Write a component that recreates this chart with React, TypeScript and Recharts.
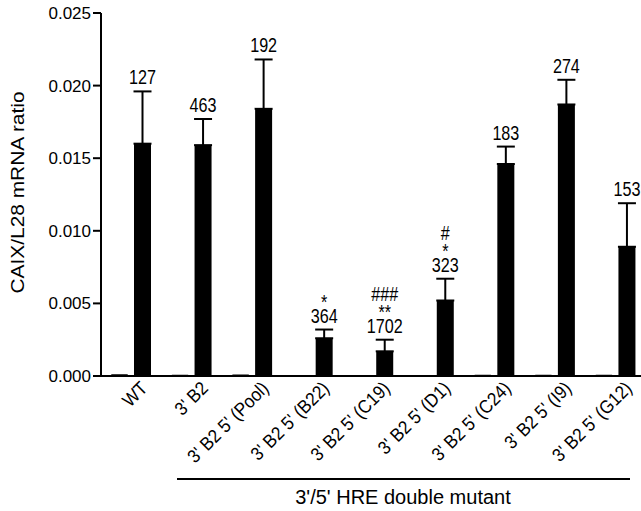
import { BarChart, Bar, XAxis, YAxis, ErrorBar, LabelList } from 'recharts';

const categories = [
  'WT',
  "3' B2",
  "3' B2 5' (Pool)",
  "3' B2 5' (B22)",
  "3' B2 5' (C19)",
  "3' B2 5' (D1)",
  "3' B2 5' (C24)",
  "3' B2 5' (I9)",
  "3' B2 5' (G12)",
];
const controlValues = [0.00012, 0.00008, 0.0001, 0.00005, 0.00005, 0.00006, 0.00008, 0.00008, 0.00008];
const meanValues = [0.016, 0.0159, 0.0184, 0.0026, 0.0017, 0.0052, 0.0146, 0.0187, 0.0089];
const errorValues = [0.0036, 0.0018, 0.0034, 0.0006, 0.0008, 0.0015, 0.0012, 0.0017, 0.003];
const countLabels = ['127', '463', '192', '364', '1702', '323', '183', '274', '153'];
// first entry: asterisks (vs WT), second: hashes
const significance: string[][] = [[], [], [], ['*'], ['**', '###'], ['*', '#'], [], [], []];
const yTicks = [0, 0.005, 0.01, 0.015, 0.02, 0.025];

const FONT = '"Liberation Sans", Arial, Helvetica, sans-serif';
const LINE_OFFSETS = [7, 21, 39];

const data = categories.map((name, i) => ({
  name,
  control: controlValues[i],
  mean: meanValues[i],
  err: errorValues[i],
  errRange: [0, errorValues[i]],
  idx: i,
}));

function AngledTick({ x, y, payload }: any) {
  return (
    <g transform={`translate(${x + 8},${y - 4})`}>
      <text
        x={0}
        y={0}
        dy="0.71em"
        textAnchor="end"
        transform="rotate(-45) scale(1,1.1)"
        fontSize={17}
        fontFamily={FONT}
        fill="#000"
      >
        {payload.value}
      </text>
    </g>
  );
}

function TopLabel({ x, y, width, index }: any) {
  const cx = x + width / 2;
  const lines = [countLabels[index], ...significance[index]];
  return (
    <g>
      {lines.map((t, k) => (
        <text
          key={k}
          x={0}
          y={0}
          transform={`translate(${cx},${y - LINE_OFFSETS[k]}) scale(0.95,1.2)`}
          textAnchor="middle"
          fontSize={17}
          fontFamily={FONT}
          fill="#000"
        >
          {t}
        </text>
      ))}
    </g>
  );
}

function YLabel({ viewBox }: any) {
  const cy = viewBox.y + viewBox.height / 2 - 2;
  return (
    <text
      x={0}
      y={0}
      transform={`translate(17,${cy}) rotate(-90) scale(1.1,1)`}
      textAnchor="middle"
      dominantBaseline="central"
      fontSize={19}
      fontFamily={FONT}
      fill="#000"
    >
      CAIX/L28 mRNA ratio
    </text>
  );
}

export default function App() {
  return (
    <div
      style={{
        position: 'absolute',
        left: 0,
        top: 0,
        width: 641,
        height: 511,
        overflow: 'hidden',
        background: '#fff',
      }}
    >
      <BarChart
        width={650}
        height={511}
        data={data}
        margin={{ top: 13, right: 4, bottom: 0, left: 0 }}
        barSize={17}
        barGap={6}
      >
        <XAxis
          dataKey="name"
          interval={0}
          height={135}
          tickLine={false}
          axisLine={{ stroke: '#000', strokeWidth: 2 }}
          tick={<AngledTick />}
        />
        <YAxis
          width={101}
          domain={[0, 0.025]}
          ticks={yTicks}
          allowDataOverflow
          tickFormatter={(v: number) => v.toFixed(3)}
          axisLine={{ stroke: '#000', strokeWidth: 2 }}
          tickLine={{ stroke: '#000', strokeWidth: 2 }}
          tickSize={8}
          tick={{ fill: '#000', fontSize: 17, fontFamily: FONT }}
          label={<YLabel />}
        />
        <Bar dataKey="control" stackId="ctrl" fill="#000" radius={[4, 4, 0, 0]} isAnimationActive={false} />
        <Bar dataKey="mean" stackId="a" fill="#000" isAnimationActive={false}>
          <ErrorBar dataKey="errRange" width={9} stroke="#000" strokeWidth={2} direction="y" />
        </Bar>
        <Bar dataKey="err" stackId="a" fill="transparent" isAnimationActive={false}>
          <LabelList dataKey="idx" content={<TopLabel />} />
        </Bar>
      </BarChart>
      <div
        style={{
          position: 'absolute',
          left: 177,
          top: 478,
          width: 453,
          borderTop: '2px solid #000',
        }}
      />
      <div
        style={{
          position: 'absolute',
          left: 0,
          width: 806,
          top: 486,
          textAlign: 'center',
          fontSize: 20,
          fontFamily: FONT,
          color: '#000',
          lineHeight: '22px',
        }}
      >
        3'/5' HRE double mutant
      </div>
    </div>
  );
}
